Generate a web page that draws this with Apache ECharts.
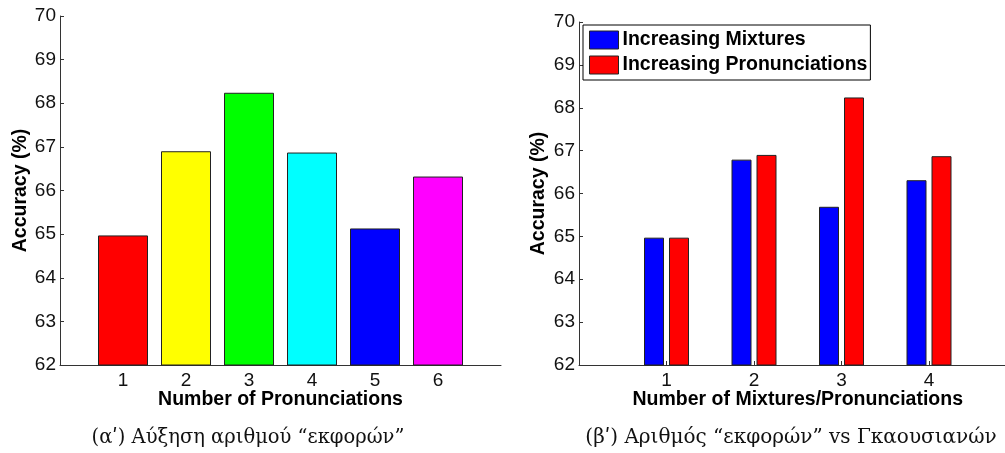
<!DOCTYPE html>
<html>
<head>
<meta charset="utf-8">
<script src="https://cdn.jsdelivr.net/npm/echarts@6/dist/echarts.min.js"></script>
<style>
  html, body { margin: 0; padding: 0; background: #fff; }
  #chart { width: 1005px; height: 453px; }
</style>
</head>
<body>
<div id="chart"></div>
<script>
// Left panel: accuracy for increasing number of pronunciations
const pronCategories = [1, 2, 3, 4, 5, 6];
const pronAccuracy = [64.97, 66.90, 68.24, 66.87, 65.13, 66.32];
const pronColors = ['#ff0000', '#ffff00', '#00ff00', '#00ffff', '#0000ff', '#ff00ff'];

// Right panel: mixtures vs pronunciations
const mixCategories = [1, 2, 3, 4];
const mixtureAccuracy = [64.97, 66.79, 65.69, 66.31];
const pronunciationAccuracy = [64.97, 66.90, 68.24, 66.87];

const yTicks = [62, 63, 64, 65, 66, 67, 68, 69, 70];

const captionLeft = '(α\u0374) Αύξηση αριθμού “εκφορών”';
const captionRight = '(β\u0374) Αριθμός “εκφορών” vs Γκαουσιανών';

const SANS = '"Liberation Sans", Arial, sans-serif';
const AXIS_COLOR = '#333';

function yAxisFor(gridIndex, gap) {
  return {
    type: 'value', gridIndex,
    min: yTicks[0], max: yTicks[yTicks.length - 1], interval: 1,
    name: 'Accuracy (%)', nameLocation: 'middle', nameGap: gap, nameMoveOverlap: false,
    nameTextStyle: { fontFamily: SANS, fontWeight: 'bold', fontSize: 19.5, color: '#000' },
    axisLine: { show: true, lineStyle: { color: AXIS_COLOR, width: 1 } },
    axisTick: { show: true, inside: true, length: 4, lineStyle: { color: AXIS_COLOR } },
    axisLabel: { fontFamily: SANS, fontSize: 19, color: '#111', margin: 4 },
    splitLine: { show: false }
  };
}

function xAxisFor(gridIndex, cats, maxVal, name) {
  return {
    type: 'value', gridIndex,
    min: 0, max: maxVal, interval: 1,
    name, nameLocation: 'middle', nameGap: 25, nameMoveOverlap: false,
    nameTextStyle: { fontFamily: SANS, fontWeight: 'bold', fontSize: 19.5, color: '#000' },
    axisLine: { show: true, onZero: false, lineStyle: { color: AXIS_COLOR, width: 1 } },
    axisTick: { show: true, inside: true, length: 4, customValues: cats, lineStyle: { color: AXIS_COLOR } },
    axisLabel: { fontFamily: SANS, fontSize: 19, color: '#111', margin: 6, customValues: cats },
    splitLine: { show: false }
  };
}

const barBorder = { borderColor: '#222', borderWidth: 1 };

const option = {
  animation: false,
  backgroundColor: '#fff',
  grid: [
    { left: 60, width: 441, top: 16, bottom: 88, containLabel: false, outerBoundsMode: 'none' },
    // the right panel's x range runs slightly past the canvas edge
    { left: 579, width: 437.5, top: 22, bottom: 88, containLabel: false, outerBoundsMode: 'none' }
  ],
  xAxis: [
    xAxisFor(0, pronCategories, 7, 'Number of Pronunciations'),
    xAxisFor(1, mixCategories, 5, 'Number of Mixtures/Pronunciations')
  ],
  yAxis: [yAxisFor(0, 29), yAxisFor(1, 30)],
  legend: {
    data: ['Increasing Mixtures', 'Increasing Pronunciations'],
    orient: 'vertical',
    left: 583, top: 25,
    padding: [5, 3, 5, 6],
    itemWidth: 29, itemHeight: 18, itemGap: 5,
    icon: 'rect',
    borderColor: '#000', borderWidth: 1, borderRadius: 0,
    backgroundColor: '#fff',
    textStyle: { fontFamily: SANS, fontWeight: 'bold', fontSize: 19.5, color: '#000', padding: [0, 0, 0, -1] },
    itemStyle: { borderColor: '#222', borderWidth: 1 }
  },
  series: [
    {
      type: 'bar', xAxisIndex: 0, yAxisIndex: 0,
      barWidth: 50,
      data: pronCategories.map((c, i) => ({
        value: [c, pronAccuracy[i]],
        itemStyle: Object.assign({ color: pronColors[i] }, barBorder)
      }))
    },
    {
      name: 'Increasing Mixtures',
      type: 'bar', xAxisIndex: 1, yAxisIndex: 1,
      barWidth: 20, barGap: '25%',
      itemStyle: Object.assign({ color: '#0000ff' }, barBorder),
      data: mixCategories.map((c, i) => [c, mixtureAccuracy[i]])
    },
    {
      name: 'Increasing Pronunciations',
      type: 'bar', xAxisIndex: 1, yAxisIndex: 1,
      barWidth: 20, barGap: '25%',
      itemStyle: Object.assign({ color: '#ff0000' }, barBorder),
      data: mixCategories.map((c, i) => [c, pronunciationAccuracy[i]])
    }
  ],
  graphic: [
    {
      type: 'text', x: 248, y: 438,
      style: { text: captionLeft, font: '19.5px "DejaVu Serif", serif', fill: '#111', align: 'center', verticalAlign: 'middle' }
    },
    {
      type: 'text', x: 791, y: 438,
      style: { text: captionRight, font: '20px "DejaVu Serif", serif', fill: '#111', align: 'center', verticalAlign: 'middle' }
    }
  ]
};

const chart = echarts.init(document.getElementById('chart'), null, { renderer: 'canvas' });
chart.setOption(option);
</script>
</body>
</html>
